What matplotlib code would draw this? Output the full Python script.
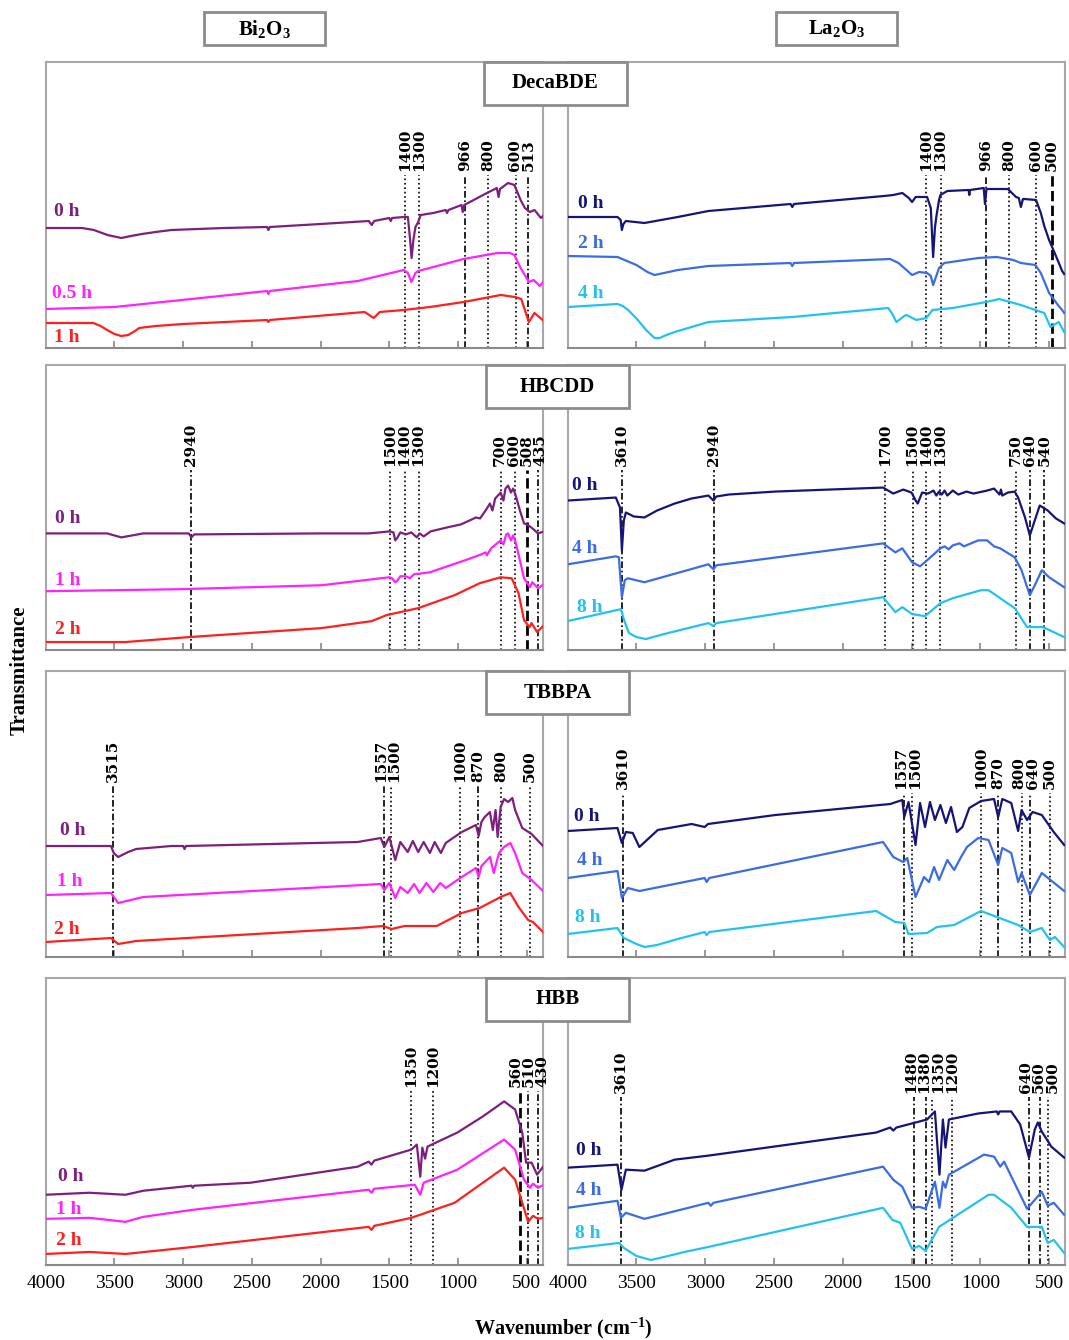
import matplotlib
matplotlib.use("Agg")
import matplotlib.pyplot as plt
from matplotlib.patches import Rectangle

plt.rcParams['font.family'] = ['Liberation Serif', 'DejaVu Serif']
plt.rcParams['mathtext.fontset'] = 'custom'
plt.rcParams['mathtext.rm'] = 'Liberation Serif'
plt.rcParams['mathtext.bf'] = 'Liberation Serif:bold'

# ---- spectra: (wavenumber, transmittance a.u.) ----
deca_bi_0 = [(4000, 120), (3735, 120), (3650, 118), (3550, 113), (3450, 110), (3380, 112), (3300, 114), (3200, 116),
             (3085, 118), (2700, 120), (2390, 121),
             (2380, 118), (2370, 121), (2000, 124), (1650, 127), (1628, 123), (1610, 127), (1500, 130), (1490, 127),
             (1480, 130), (1395, 131), (1365, 131), (1350, 110), (1338, 90), (1325, 108), (1310, 121), (1290, 126),
             (1272, 133), (1180, 135), (1090, 138), (1080, 135), (1070, 138), (975, 143), (966, 136), (955, 143),
             (790, 155), (718, 160), (705, 151), (695, 159), (636, 165), (590, 163), (545, 148), (514, 140),
             (478, 136), (444, 138), (397, 130), (375, 133)]
deca_bi_1 = [(4000, 39), (3500, 41), (3290, 44), (2800, 51), (2390, 57), (2380, 54), (2370, 57), (1730, 67),
             (1395, 78), (1365, 75), (1340, 66), (1310, 75), (1290, 77), (960, 89), (714, 95), (624, 95), (590, 93),
             (545, 80), (514, 73), (485, 66), (450, 68), (405, 62), (375, 67)]
deca_bi_2 = [(4000, 25), (3655, 25), (3600, 22), (3553, 18), (3500, 14), (3450, 12), (3400, 13), (3350, 17),
             (3320, 20), (3200, 22), (3000, 24),
             (2390, 28), (2380, 26), (2370, 28), (1680, 36), (1613, 30), (1570, 36), (1395, 38), (1205, 41),
             (960, 46), (690, 53), (585, 51), (540, 49), (500, 32), (485, 26), (444, 35), (375, 27)]

deca_la_0 = [(4000, 131), (3638, 131), (3615, 128), (3606, 118), (3595, 124), (3577, 127), (3442, 125), (3200, 131),
             (2977, 137), (2380, 144), (2367, 141), (2355, 144), (1700, 152), (1633, 153), (1567, 155), (1520, 150),
             (1496, 146), (1470, 151), (1438, 151), (1387, 151), (1360, 140), (1343, 91), (1330, 120), (1320, 131),
             (1300, 148), (1290, 153), (1240, 157), (1085, 158), (1080, 153), (1075, 158), (975, 160), (966, 144),
             (955, 159), (800, 159), (740, 151), (720, 150), (705, 141), (690, 149), (680, 149), (595, 148),
             (560, 135), (535, 122), (500, 108), (450, 92), (405, 77), (390, 74)]
deca_la_1 = [(4000, 92), (3638, 91), (3500, 83), (3420, 76), (3369, 73), (3300, 75), (3200, 78), (2977, 82),
             (2380, 85), (2367, 82),
             (2355, 85), (1655, 89), (1595, 85), (1496, 73), (1445, 76), (1387, 75), (1360, 72), (1343, 63),
             (1320, 72), (1300, 80), (1262, 85), (1015, 90), (880, 91), (760, 88), (705, 85), (600, 83),
             (560, 75), (500, 55), (430, 42), (405, 38), (390, 35)]
deca_la_2 = [(4000, 41), (3638, 44), (3600, 42), (3560, 38), (3490, 28), (3430, 18), (3369, 10), (3330, 10),
             (3300, 12), (3222, 16), (3100, 21), (2977, 26),
             (2367, 31), (1669, 40), (1640, 34), (1610, 26), (1553, 32), (1537, 33), (1465, 28), (1392, 30),
             (1348, 38), (1200, 40), (957, 46), (863, 49), (705, 43), (600, 38), (535, 35), (490, 21),
             (430, 26), (390, 16)]

hbcdd_bi_0 = [(4000, 117), (3553, 117), (3450, 113), (3290, 117), (2960, 117), (2940, 113), (2920, 116), (2000, 117),
              (1650, 117), (1500, 119), (1470, 118), (1457, 110), (1440, 113), (1420, 118), (1380, 116), (1340, 118),
              (1300, 113), (1280, 117), (1250, 114), (1200, 119), (1080, 123), (980, 126), (900, 131), (870, 133),
              (840, 132), (800, 140), (768, 147), (750, 140), (730, 152), (690, 158), (670, 150), (655, 162),
              (636, 165), (615, 158), (600, 162), (585, 157), (550, 140), (520, 127), (500, 126), (477, 124),
              (450, 121), (418, 117), (375, 119)]
hbcdd_bi_1 = [(4000, 59), (3028, 61), (1992, 65), (1500, 73), (1480, 72), (1457, 68), (1440, 70), (1420, 74),
              (1380, 74), (1350, 72), (1320, 76), (1205, 78), (950, 90), (830, 96), (800, 98), (790, 95),
              (760, 102), (690, 110), (670, 106), (650, 116), (636, 117), (615, 110), (600, 115), (585, 110),
              (550, 90), (520, 72), (477, 63), (460, 68), (418, 62), (375, 66)]
hbcdd_bi_2 = [(4000, 8), (3420, 8), (2953, 13), (1992, 22), (1628, 29), (1520, 35), (1290, 42), (1025, 55),
              (843, 67), (690, 73), (610, 72), (560, 57), (520, 30), (480, 23), (465, 27), (425, 18), (375, 25)]

hbcdd_la_0 = [(4000, 150), (3650, 153), (3620, 143), (3606, 100), (3592, 130), (3577, 138), (3520, 134), (3442, 133),
              (3350, 140), (3222, 147), (3100, 152),
              (2977, 155), (2940, 150), (2920, 154), (2830, 156), (2490, 159), (1707, 163), (1633, 157), (1560, 161),
              (1500, 158), (1470, 150), (1455, 147), (1423, 158), (1380, 157), (1340, 160), (1320, 155), (1300, 159),
              (1280, 156), (1260, 160), (1240, 155), (1200, 160), (1160, 156), (1100, 159), (1050, 157), (950, 160),
              (900, 162), (860, 156), (850, 161), (840, 155), (800, 158), (750, 159), (725, 153), (675, 133),
              (640, 115), (604, 130), (568, 145), (510, 140), (450, 132), (390, 127)]
hbcdd_la_1 = [(4000, 86), (3650, 94), (3628, 93), (3606, 53), (3585, 70), (3563, 72), (3442, 68), (2977, 86),
              (2940, 81), (2920, 85), (1707, 107), (1618, 98), (1567, 102), (1496, 88), (1438, 84), (1387, 90),
              (1290, 102), (1260, 104), (1230, 101), (1200, 105), (1150, 107), (1120, 104), (1015, 110), (950, 110),
              (900, 104), (855, 102), (750, 93), (700, 80), (640, 55), (600, 66), (553, 80), (500, 73), (390, 63)]
hbcdd_la_2 = [(4000, 29), (3613, 41), (3590, 30), (3555, 17), (3500, 13), (3431, 11), (3300, 16), (2977, 27),
              (2940, 24), (2920, 27),
              (1707, 53), (1618, 38), (1567, 43), (1496, 36), (1402, 34), (1290, 47), (1200, 52), (995, 60),
              (940, 60), (750, 42), (660, 23), (545, 23), (390, 13)]

tbbpa_bi_0 = [(4000, 111), (3525, 111), (3505, 104), (3473, 100), (3400, 105), (3342, 108), (3085, 111), (3000, 111),
              (2990, 108), (2980, 111), (1730, 115), (1562, 119), (1537, 110), (1500, 120), (1457, 97), (1420, 115),
              (1366, 105), (1329, 116), (1290, 105), (1250, 115), (1205, 104), (1170, 115), (1125, 104), (1090, 114),
              (973, 125), (870, 132), (850, 121), (830, 135), (806, 140), (768, 145), (747, 127), (727, 147),
              (712, 120), (690, 150), (665, 158), (636, 155), (605, 159), (585, 147), (533, 129), (465, 123),
              (375, 110)]
tbbpa_bi_1 = [(4000, 62), (3525, 64), (3473, 54), (3290, 60), (1562, 73), (1537, 67), (1500, 74), (1457, 59),
              (1420, 70), (1366, 64), (1320, 73), (1280, 64), (1230, 74), (1180, 65), (1130, 74), (1090, 69),
              (973, 80), (870, 89), (850, 80), (830, 91), (768, 100), (740, 84), (702, 104), (665, 110), (620, 114),
              (585, 104), (533, 84), (465, 77), (375, 65)]
tbbpa_bi_2 = [(4000, 15), (3525, 19), (3473, 13), (3342, 16), (1730, 29), (1548, 31), (1483, 28), (1390, 31),
              (1155, 31), (973, 44), (843, 49), (690, 60), (620, 64), (560, 50), (490, 37), (455, 35), (375, 24)]

tbbpa_la_0 = [(4000, 126), (3638, 129), (3606, 114), (3577, 125), (3527, 124), (3479, 110), (3345, 127), (3099, 133),
              (3004, 130), (2980, 133), (2490, 142), (1655, 153), (1567, 157), (1553, 140), (1522, 155), (1471, 112),
              (1438, 154), (1402, 130), (1366, 155), (1330, 137), (1290, 152), (1250, 134), (1213, 150), (1170, 125),
              (1130, 130), (1080, 149), (995, 156), (900, 158), (870, 140), (840, 158), (775, 154), (725, 126),
              (700, 147), (660, 137), (620, 145), (553, 142), (466, 125), (390, 112)]
tbbpa_la_1 = [(4000, 79), (3638, 86), (3606, 59), (3563, 69), (3479, 66), (3004, 79), (2990, 75), (2970, 79),
              (1707, 115), (1633, 100), (1560, 95), (1531, 99), (1471, 60), (1409, 80), (1373, 75), (1336, 90),
              (1300, 77), (1240, 97), (1190, 87), (1140, 100), (1097, 110), (1015, 119), (940, 117), (870, 92),
              (840, 109), (775, 104), (725, 75), (700, 84), (640, 62), (553, 84), (390, 66)]
tbbpa_la_2 = [(4000, 23), (3638, 29), (3592, 19), (3500, 13), (3442, 10), (3350, 12), (3200, 18), (3004, 25),
              (2990, 22), (2970, 25), (1757, 46),
              (1618, 35), (1553, 34), (1522, 23), (1387, 24), (1315, 30), (1190, 32), (995, 46), (725, 32),
              (640, 25), (553, 29), (495, 17), (457, 20), (390, 10)]

hbb_bi_0 = [(4000, 70), (3682, 72), (3420, 70), (3290, 74), (2940, 79), (2930, 77), (2920, 79), (2510, 82),
            (1730, 98), (1650, 103), (1630, 100), (1610, 104), (1340, 115), (1300, 120), (1275, 88), (1260, 117),
            (1240, 106), (1222, 118), (1005, 132), (820, 148), (665, 163), (585, 155), (533, 132), (505, 102),
            (465, 102), (425, 90), (375, 99)]
hbb_bi_1 = [(4000, 46), (3682, 47), (3420, 43), (3290, 48), (2930, 55), (1650, 75), (1630, 72), (1610, 76),
            (1315, 80), (1275, 70), (1250, 82), (1005, 95), (665, 125), (585, 115), (520, 85), (477, 77),
            (455, 81), (418, 77), (375, 80)]
hbb_bi_2 = [(4000, 11), (3682, 13), (3420, 11), (2928, 18), (1650, 38), (1630, 35), (1610, 39), (1340, 47),
            (1025, 62), (665, 97), (585, 85), (490, 43), (455, 49), (418, 46), (375, 47)]

hbb_la_0 = [(4000, 97), (3638, 100), (3609, 75), (3577, 95), (3442, 94), (3222, 105), (2977, 109), (1757, 132),
            (1655, 137), (1633, 134), (1610, 137), (1387, 145), (1330, 153), (1297, 90), (1272, 145), (1253, 117),
            (1228, 145), (1015, 151), (880, 153), (870, 150), (860, 153), (775, 153), (710, 140), (646, 107),
            (604, 135), (582, 142), (553, 133), (484, 118), (390, 107)]
hbb_la_1 = [(4000, 57), (3638, 64), (3613, 47), (3577, 52), (3442, 46), (2977, 62), (2960, 59), (2940, 62),
            (1707, 98), (1633, 85), (1567, 78), (1496, 57), (1445, 58), (1398, 56), (1330, 83), (1297, 57),
            (1272, 83), (1253, 77), (1228, 90), (973, 110), (900, 108), (855, 98), (827, 103), (660, 56),
            (553, 73), (510, 59), (466, 62), (390, 50)]
hbb_la_2 = [(4000, 16), (3626, 22), (3592, 17), (3500, 9), (3395, 5), (3300, 8), (3150, 13), (2977, 18),
            (1707, 57), (1640, 45), (1582, 42),
            (1496, 16), (1445, 19), (1398, 14), (1300, 38), (940, 70), (900, 70), (775, 57), (660, 38),
            (553, 38), (510, 22), (466, 25), (390, 12)]

# ---- marked bands: label values and where the marker lines are drawn ----
deca_bi_peaks = [1400, 1300, 966, 800, 600, 513]
deca_bi_lines = [1384, 1285, 947, 780, 579, 493]
deca_la_peaks = [1400, 1300, 966, 800, 600, 500]
deca_la_lines = [1392, 1289, 957, 793, 592, 482]
hbcdd_bi_peaks = [2940, 1500, 1400, 1300, 700, 600, 508, 435]
hbcdd_bi_lines = [2941, 1493, 1389, 1287, 684, 584, 499, 421]
hbcdd_la_peaks = [3610, 2940, 1700, 1500, 1400, 1300, 750, 640, 540]
hbcdd_la_lines = [3606, 2936, 1693, 1492, 1397, 1292, 744, 636, 534]
tbbpa_bi_peaks = [3515, 1557, 1500, 1000, 870, 800, 500]
tbbpa_bi_lines = [3510, 1542, 1485, 983, 853, 684, 480]
tbbpa_la_peaks = [3610, 1557, 1500, 1000, 870, 800, 640, 500]
tbbpa_la_lines = [3601, 1554, 1497, 996, 869, 698, 640, 495]
hbb_bi_peaks = [1350, 1200, 560, 510, 430]
hbb_bi_lines = [1340, 1184, 546, 494, 416]
hbb_la_peaks = [3610, 1480, 1380, 1350, 1200, 640, 560, 500]
hbb_la_lines = [3613, 1480, 1392, 1351, 1204, 648, 563, 507]

compounds = ['DecaBDE', 'HBCDD', 'TBBPA', 'HBB']
bi_times = [['0 h', '0.5 h', '1 h'], ['0 h', '1 h', '2 h'], ['0 h', '1 h', '2 h'], ['0 h', '1 h', '2 h']]
la_times = [['0 h', '2 h', '4 h'], ['0 h', '4 h', '8 h'], ['0 h', '4 h', '8 h'], ['0 h', '4 h', '8 h']]
ticks = [4000, 3500, 3000, 2500, 2000, 1500, 1000, 500]

# ---- styles / layout ----
bi_colors = ['#7d1f7d', '#ff22ff', '#ff1f1f']
la_colors = ['#151579', '#3b6ce6', '#22c2f0']

D, T, DD = ':', (0, (4, 1.6, 1, 1.6)), '--'
deca_bi_sty = [D, D, T, D, D, T]
deca_la_sty = [D, D, T, D, D, DD]
hbcdd_bi_sty = [T, D, D, D, D, D, DD, T]
hbcdd_la_sty = [T, T, D, D, D, D, D, T, T]
tbbpa_bi_sty = [T, T, D, D, T, D, D]
tbbpa_la_sty = [T, T, D, D, T, D, T, D]
hbb_bi_sty = [D, D, DD, T, T]
hbb_la_sty = [T, T, T, D, D, T, T, D]

rows = [
    ([deca_bi_0, deca_bi_1, deca_bi_2], deca_bi_peaks, deca_bi_lines, deca_bi_sty,
     [deca_la_0, deca_la_1, deca_la_2], deca_la_peaks, deca_la_lines, deca_la_sty),
    ([hbcdd_bi_0, hbcdd_bi_1, hbcdd_bi_2], hbcdd_bi_peaks, hbcdd_bi_lines, hbcdd_bi_sty,
     [hbcdd_la_0, hbcdd_la_1, hbcdd_la_2], hbcdd_la_peaks, hbcdd_la_lines, hbcdd_la_sty),
    ([tbbpa_bi_0, tbbpa_bi_1, tbbpa_bi_2], tbbpa_bi_peaks, tbbpa_bi_lines, tbbpa_bi_sty,
     [tbbpa_la_0, tbbpa_la_1, tbbpa_la_2], tbbpa_la_peaks, tbbpa_la_lines, tbbpa_la_sty),
    ([hbb_bi_0, hbb_bi_1, hbb_bi_2], hbb_bi_peaks, hbb_bi_lines, hbb_bi_sty,
     [hbb_la_0, hbb_la_1, hbb_la_2], hbb_la_peaks, hbb_la_lines, hbb_la_sty),
]

# pixel layout of the figure
W, H = 1069, 1340
XMAX, XMIN = 4000, 382
row_px = [(62, 348), (365, 650), (671, 957), (978, 1265)]
col_px = [(45.7, 543), (567.7, 1065.3)]
line_top = [(0.605, 0.605), (0.63, 0.63), (0.598, 0.573), (0.605, 0.584)]
bi_lab_pos = [[(3940, 136), (3955, 54), (3940, 11)], [(3932, 132), (3932, 70), (3932, 21)],
              [(3896, 126), (3918, 76), (3940, 27)], [(3910, 88), (3925, 55), (3925, 24)]]
la_lab_pos = [[(3925, 145), (3925, 104), (3925, 54)], [(3969, 165), (3969, 102), (3933, 43)],
              [(3954, 140), (3933, 96), (3947, 39)], [(3940, 114), (3940, 74), (3947, 31)]]
title_px = [(484, 62), (486, 365), (486, 671), (486, 978)]
LABEL_GAP = 13.5  # px between neighbouring band labels

fig = plt.figure(figsize=(W / 100, H / 100), dpi=100)


def spread(lines, width_px, gap_px):
    # push neighbouring labels apart so they don't sit on top of each other
    k = (XMAX - XMIN) / width_px
    pos = [(XMAX - w) / k for w in lines]
    for _ in range(200):
        moved = False
        for a in range(len(pos) - 1):
            d = pos[a + 1] - pos[a]
            if d < gap_px - 0.01:
                s = (gap_px - d) / 2
                pos[a] -= s
                pos[a + 1] += s
                moved = True
        if not moved:
            break
    return [XMAX - p * k for p in pos]


def draw_panel(ax, width_px, curves, colors, times, lab_pos, peaks, lines, styles, top, show_ticks):
    for c, col, t, (lx, ly) in zip(curves, colors, times, lab_pos):
        ax.plot([p[0] for p in c], [p[1] for p in c], color=col, lw=1.6, zorder=3)
        ax.text(lx, ly, t, color=col, fontsize=14, fontweight='bold', ha='left', va='center')
    lab_x = spread(lines, width_px, LABEL_GAP)
    for pk, lx, tx, st in zip(peaks, lines, lab_x, styles):
        lw = 2.0 if st == '--' else 1.2
        ax.axvline(lx, ymin=0, ymax=top, color='black', ls=st, lw=lw, zorder=2)
        ax.text(tx, 286 * top + 4, str(pk), rotation=90, ha='center', va='bottom',
                fontsize=11, fontweight='bold', family='DejaVu Serif')
    ax.set_xlim(XMAX, XMIN)
    ax.set_ylim(0, 286)
    ax.set_yticks([])
    ax.set_xticks(ticks)
    ax.tick_params(axis='x', direction='in', length=5, color='#888888', width=1.2,
                   labelsize=14, pad=7, labelbottom=show_ticks)
    for s in ax.spines.values():
        s.set_color('#a8a8a8')
        s.set_linewidth(1.5)
    ax.spines['bottom'].set_color('#8a8a8a')


for i, (bi_c, bi_pk, bi_ln, bi_st, la_c, la_pk, la_ln, la_st) in enumerate(rows):
    top_px, bot_px = row_px[i]
    for j, (curves, peaks, lines, styles, colors, times, lab) in enumerate([
            (bi_c, bi_pk, bi_ln, bi_st, bi_colors, bi_times[i], bi_lab_pos[i]),
            (la_c, la_pk, la_ln, la_st, la_colors, la_times[i], la_lab_pos[i])]):
        x0, x1 = col_px[j]
        ax = fig.add_axes([x0 / W, 1 - bot_px / H, (x1 - x0) / W, (bot_px - top_px) / H])
        draw_panel(ax, x1 - x0, curves, colors, times, lab, peaks, lines, styles, line_top[i][j], i == 3)


def box(xp, yp, wp, hp, text, size):
    fig.add_artist(Rectangle((xp / W, 1 - (yp + hp) / H), wp / W, hp / H, transform=fig.transFigure,
                             facecolor='white', edgecolor='#8c8c8c', lw=2, zorder=10))
    fig.text((xp + wp / 2) / W, 1 - (yp + hp / 2) / H, text, ha='center', va='center',
             fontsize=size, fontweight='bold', zorder=11)


for name, (bx, by) in zip(compounds, title_px):
    box(bx, by, 143, 43, name, 15)

box(204, 12, 121, 33, r'$\mathbf{Bi_2O_3}$', 15)
box(776, 12, 121, 33, r'$\mathbf{La_2O_3}$', 15)

fig.text(20 / W, 1 - 670 / H, 'Transmittance', rotation=90, ha='center', va='center',
         fontsize=15, fontweight='bold')
fig.text(563 / W, 1 - 1328 / H, r'Wavenumber (cm$^{\mathbf{-1}}$)', ha='center', va='center',
         fontsize=14.5, fontweight='bold')

fig.savefig('out.png', dpi=100)
